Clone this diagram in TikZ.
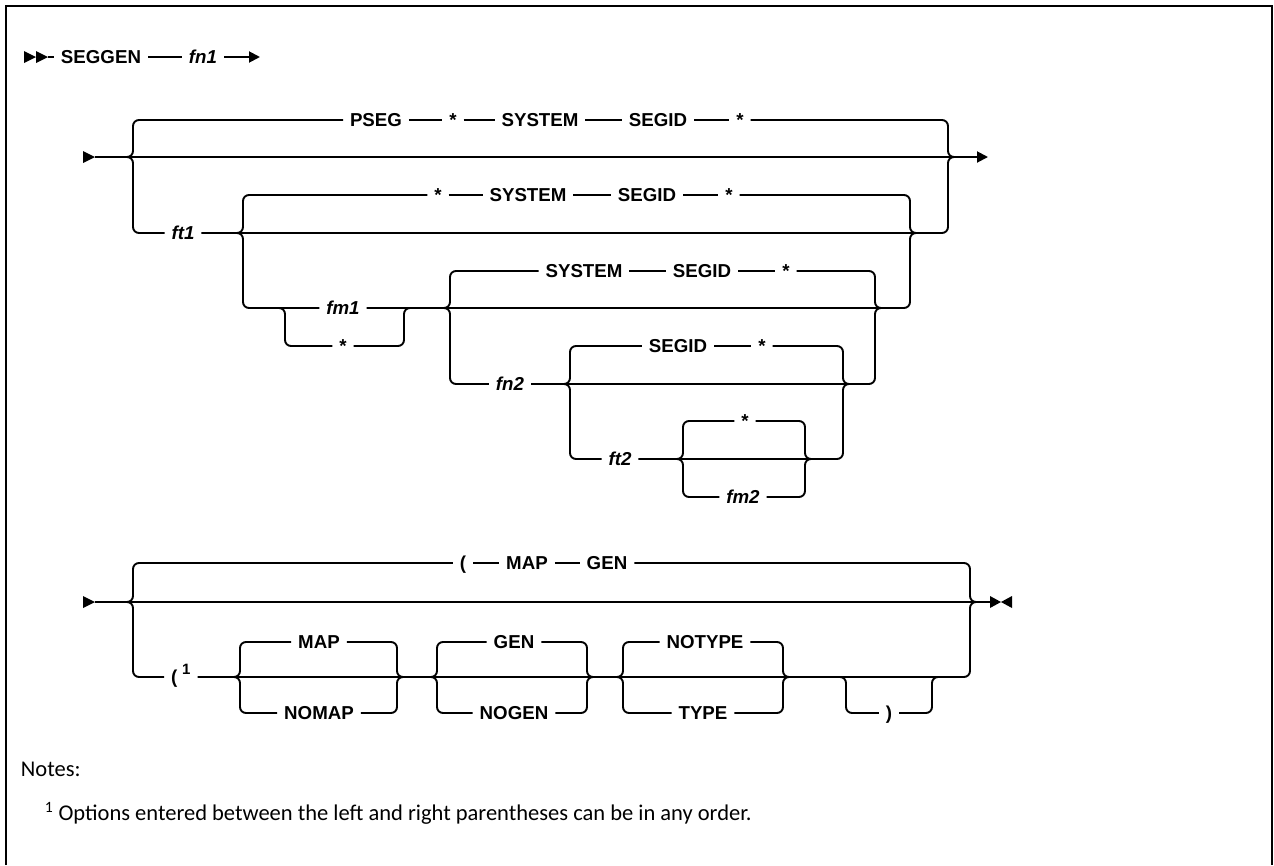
\documentclass[tikz,border=0pt]{standalone}
\usepackage{fontspec}
\setmainfont{Liberation Sans}
\newfontfamily\notefont{Carlito}
\usetikzlibrary{arrows.meta,calc}
\begin{document}
\begin{tikzpicture}[x=1pt,y=-1pt,line width=1.9pt,
  kw/.style={inner xsep=7pt,inner ysep=0pt,outer sep=0pt,text height=13.3pt,text depth=0pt,font=\fontsize{18.7}{20}\selectfont\bfseries},
  var/.style={kw,font=\fontsize{18.7}{20}\selectfont\bfseries\itshape},
  rr/.style={rounded corners=6pt},
  tip/.style={-{Triangle[length=11pt,width=11pt]}},
  note/.style={anchor=base west,inner sep=0pt,font=\notefont\fontsize{22.5}{26}\selectfont}]
\useasboundingbox (0,0) rectangle (1274,865);
% frame
\draw[line width=2.5pt] (6,865) -- (6,6) -- (1272,6) -- (1272,865);

% title row
\fill (24,51) -- (36,57) -- (24,63) -- cycle;
\fill (36,51) -- (48,57) -- (36,63) -- cycle;
\coordinate (t0) at (48,57);
\node[kw] (seggen) at (101,57) {SEGGEN};
\node[var] (fn1) at (203,57) {fn1};
\coordinate (t1) at (260,57);
\draw (t0) -- (seggen);
\draw (seggen) -- (fn1);
\draw[tip] (fn1) -- (t1);

% ===== section 1 =====
\fill (83,151) -- (95,157) -- (83,163) -- cycle;
\coordinate (s1) at (95,157);
\coordinate (e1) at (988,157);
\draw[tip] (s1) -- (e1);
\coordinate (AL) at (133,157);
\coordinate (AR) at (948,157);
% A top
\node[kw] (pseg) at (376,120) {PSEG};
\node[kw] (a2) at (453,120) {*};
\node[kw] (a3) at (540,120) {SYSTEM};
\node[kw] (a4) at (658,120) {SEGID};
\node[kw] (a5) at (740,120) {*};
\draw[rr] ($(AL)+(-8,0)$) -- (AL) -- (AL |- pseg) -- (pseg);
\draw (pseg) -- (a2) -- (a3) -- (a4) -- (a5);
\draw[rr] (a5) -- (AR |- a5) -- (AR) -- ($(AR)+(8,0)$);
% A bottom
\node[var] (ft1) at (183,233) {ft1};
\draw[rr] ($(AL)+(-8,0)$) -- (AL) -- (AL |- ft1) -- (ft1);
\draw[rr] (ft1) -- (AR |- ft1) -- (AR) -- ($(AR)+(8,0)$);
% B
\coordinate (BL) at (243,233);
\coordinate (BR) at (910,233);
\node[kw] (b1) at (438,195) {*};
\node[kw] (b2) at (528,195) {SYSTEM};
\node[kw] (b3) at (647,195) {SEGID};
\node[kw] (b4) at (729,195) {*};
\draw[rr] ($(BL)+(-8,0)$) -- (BL) -- (BL |- b1) -- (b1);
\draw (b1) -- (b2) -- (b3) -- (b4);
\draw[rr] (b4) -- (BR |- b4) -- (BR) -- ($(BR)+(8,0)$);
\node[var] (fm1) at (343,308) {fm1};
\draw[rr] ($(BL)+(-8,0)$) -- (BL) -- (BL |- fm1) -- (fm1);
\draw[rr] (fm1) -- (BR |- fm1) -- (BR) -- ($(BR)+(8,0)$);
% fm1 / *
\coordinate (FL) at (285,308);
\coordinate (FR) at (404,308);
\node[kw] (fstar) at (343,346) {*};
\draw[rr] ($(FL)+(-8,0)$) -- (FL) -- (FL |- fstar) -- (fstar);
\draw[rr] (fstar) -- (FR |- fstar) -- (FR) -- ($(FR)+(8,0)$);
% C
\coordinate (CL) at (450,308);
\coordinate (CR) at (875,308);
\node[kw] (c1) at (584,271) {SYSTEM};
\node[kw] (c2) at (702,271) {SEGID};
\node[kw] (c3) at (786,271) {*};
\draw[rr] ($(CL)+(-8,0)$) -- (CL) -- (CL |- c1) -- (c1);
\draw (c1) -- (c2) -- (c3);
\draw[rr] (c3) -- (CR |- c3) -- (CR) -- ($(CR)+(8,0)$);
\node[var] (fn2) at (510,384) {fn2};
\draw[rr] ($(CL)+(-8,0)$) -- (CL) -- (CL |- fn2) -- (fn2);
\draw[rr] (fn2) -- (CR |- fn2) -- (CR) -- ($(CR)+(8,0)$);
% D
\coordinate (DL) at (570,384);
\coordinate (DR) at (843,384);
\node[kw] (d1) at (678,346) {SEGID};
\node[kw] (d2) at (762,346) {*};
\draw[rr] ($(DL)+(-8,0)$) -- (DL) -- (DL |- d1) -- (d1);
\draw (d1) -- (d2);
\draw[rr] (d2) -- (DR |- d2) -- (DR) -- ($(DR)+(8,0)$);
\node[var] (ft2) at (620,459) {ft2};
\draw[rr] ($(DL)+(-8,0)$) -- (DL) -- (DL |- ft2) -- (ft2);
\draw[rr] (ft2) -- (DR |- ft2) -- (DR) -- ($(DR)+(8,0)$);
% E
\coordinate (EL) at (683,459);
\coordinate (ER) at (805,459);
\node[kw] (e1s) at (745,421) {*};
\node[var] (fm2) at (743,497) {fm2};
\draw[rr] ($(EL)+(-8,0)$) -- (EL) -- (EL |- e1s) -- (e1s);
\draw[rr] (e1s) -- (ER |- e1s) -- (ER) -- ($(ER)+(8,0)$);
\draw[rr] ($(EL)+(-8,0)$) -- (EL) -- (EL |- fm2) -- (fm2);
\draw[rr] (fm2) -- (ER |- fm2) -- (ER) -- ($(ER)+(8,0)$);

% ===== section 2 =====
\fill (83,596) -- (95,602) -- (83,608) -- cycle;
\coordinate (s2) at (95,602);
\coordinate (e2) at (990,602);
\draw (s2) -- (e2);
\fill (990,596) -- (1001,602) -- (990,608) -- cycle;
\fill (1012,596) -- (1001,602) -- (1012,608) -- cycle;
\coordinate (FLL) at (133,602);
\coordinate (FRR) at (970,602);
\node[kw] (g1) at (463,563) {(};
\node[kw] (g2) at (527,563) {MAP};
\node[kw] (g3) at (607,563) {GEN};
\draw[rr] ($(FLL)+(-8,0)$) -- (FLL) -- (FLL |- g1) -- (g1);
\draw (g1) -- (g2) -- (g3);
\draw[rr] (g3) -- (FRR |- g3) -- (FRR) -- ($(FRR)+(8,0)$);
\node[kw,anchor=west] (p1) at (164,677) {(\hspace{5pt}\raisebox{9pt}{\fontsize{15}{15}\selectfont 1}};
\draw[rr] ($(FLL)+(-8,0)$) -- (FLL) -- (FLL |- p1) -- (p1);
\draw[rr] (p1) -- (FRR |- p1) -- (FRR) -- ($(FRR)+(8,0)$);
% G
\coordinate (GL) at (240,677);
\coordinate (GR) at (397,677);
\node[kw] (map) at (319,642) {MAP};
\node[kw] (nomap) at (319,713) {NOMAP};
% H
\coordinate (HL) at (437,677);
\coordinate (HR) at (587,677);
\node[kw] (gen) at (514,642) {GEN};
\node[kw] (nogen) at (514,713) {NOGEN};
% I
\coordinate (IL) at (623,677);
\coordinate (IR) at (783,677);
\node[kw] (notype) at (705,642) {NOTYPE};
\node[kw] (type) at (703,713) {TYPE};
\foreach \L/\R/\u/\d in {GL/GR/map/nomap,HL/HR/gen/nogen,IL/IR/notype/type}{
  \draw[rr] ($(\L)+(-8,0)$) -- (\L) -- (\L |- \u) -- (\u);
  \draw[rr] (\u) -- (\R |- \u) -- (\R) -- ($(\R)+(8,0)$);
  \draw[rr] ($(\L)+(-8,0)$) -- (\L) -- (\L |- \d) -- (\d);
  \draw[rr] (\d) -- (\R |- \d) -- (\R) -- ($(\R)+(8,0)$);
}
% J
\coordinate (JL) at (846,677);
\coordinate (JR) at (932,677);
\node[kw] (rp) at (889,713) {)};
\draw[rr] ($(JL)+(-8,0)$) -- (JL) -- (JL |- rp) -- (rp);
\draw[rr] (rp) -- (JR |- rp) -- (JR) -- ($(JR)+(8,0)$);

% notes
\node[note] (notes) at (20,776) {Notes:};
\node[note] (fnote) at (44,820) {\textsuperscript{1} Options entered between the left and right parentheses can be in any order.};
\end{tikzpicture}
\end{document}
